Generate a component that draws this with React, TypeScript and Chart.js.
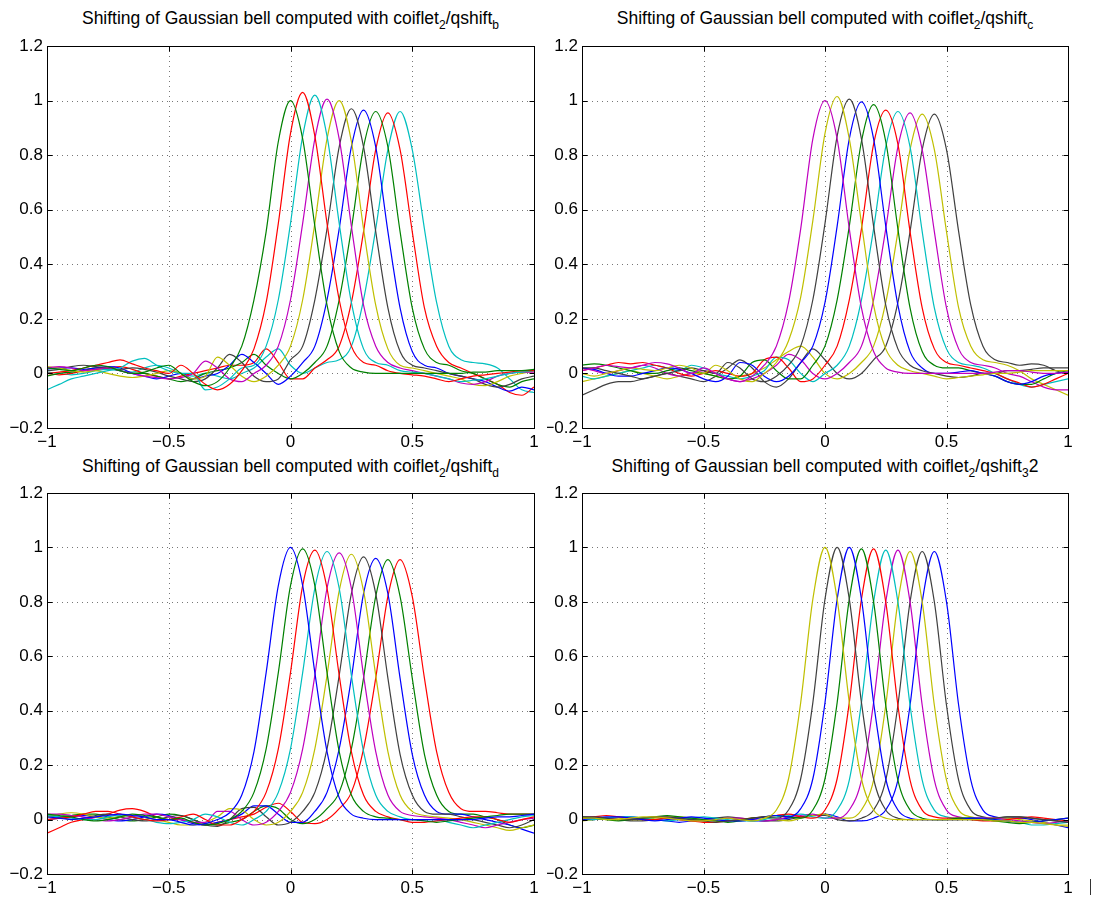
import React, { useEffect, useRef } from "react";
import { Chart, registerables } from "chart.js";
Chart.register(...registerables);

// x sample positions shared by every curve
const xValues = [-1, -0.95, -0.9, -0.85, -0.8, -0.75, -0.7, -0.65, -0.6, -0.55, -0.5, -0.45, -0.4, -0.35, -0.3, -0.25, -0.2, -0.15, -0.1, -0.05, 0, 0.05, 0.1, 0.15, 0.2, 0.25, 0.3, 0.35, 0.4, 0.45, 0.5, 0.55, 0.6, 0.65, 0.7, 0.75, 0.8, 0.85, 0.9, 0.95, 1];
const xTicks = [-1, -0.5, 0, 0.5, 1];
const yTicks = [-0.2, 0, 0.2, 0.4, 0.6, 0.8, 1, 1.2];

const cB = "#0000ff", cG = "#008000", cR = "#ff0000", cC = "#00bfbf", cM = "#bf00bf", cY = "#bfbf00", cK = "#404040";

// ---- Panel 1: qshift_b ----
const p1Colors = [cG, cR, cC, cM, cY, cK, cB, cG, cR, cC];
const p1s0 = [0.02, 0.015, 0.01, 0.02, 0.03, 0.025, 0.01, 0, 0.005, 0.02, 0.03, 0, -0.03, -0.045, -0.03, 0.02, 0.1, 0.27, 0.52, 0.85, 1, 0.86, 0.54, 0.25, 0.08, 0.02, 0.005, 0, 0, 0, 0, 0, 0, 0, 0, 0.005, 0.005, 0.01, 0.01, 0.01, 0.015];
const p1s1 = [0, 0.005, 0.01, 0.02, 0.03, 0.04, 0.05, 0.035, 0.02, 0.01, 0, 0.03, 0, -0.04, -0.06, -0.04, 0.01, 0.09, 0.26, 0.55, 0.88, 1.03, 0.87, 0.55, 0.27, 0.1, 0.04, 0.03, 0.01, 0, -0.005, -0.01, -0.02, -0.03, -0.02, -0.01, -0.005, 0, 0.005, 0.01, 0.01];
const p1s2 = [-0.06, -0.04, -0.02, -0.01, 0, 0.01, 0.02, 0.045, 0.055, 0.03, 0.01, 0, 0, -0.06, -0.05, -0.02, 0.02, 0.03, 0.1, 0.27, 0.55, 0.87, 1.02, 0.87, 0.55, 0.26, 0.09, 0.04, 0.03, 0.01, 0.005, 0, -0.01, -0.02, -0.03, -0.025, -0.02, -0.01, 0, 0.005, 0.01];
const p1s3 = [0.02, 0.025, 0.02, 0.01, 0.015, 0.02, 0.01, 0, -0.01, -0.015, -0.02, -0.015, 0, 0.045, 0.02, -0.02, -0.03, 0, 0.03, 0.1, 0.27, 0.55, 0.86, 1.005, 0.86, 0.54, 0.25, 0.1, 0.04, 0.02, 0.01, 0, -0.01, -0.02, -0.035, -0.04, -0.03, -0.01, 0, 0.005, 0.005];
const p1s4 = [0.025, 0.02, 0.01, 0.005, 0.01, 0, -0.01, -0.015, -0.01, 0, 0.01, 0, -0.02, -0.01, 0.06, 0.03, -0.01, -0.03, -0.01, 0.03, 0.1, 0.27, 0.55, 0.86, 1, 0.85, 0.53, 0.25, 0.09, 0.03, 0.02, 0.01, 0, -0.01, -0.02, -0.04, -0.045, -0.03, -0.01, 0, 0.01];
const p1s5 = [0.01, 0.015, 0.025, 0.03, 0.025, 0.02, 0.015, 0.02, 0.015, 0.005, -0.01, -0.02, -0.03, -0.02, 0.02, 0.07, 0.04, -0.01, -0.03, -0.02, 0.05, 0.1, 0.27, 0.53, 0.83, 0.97, 0.83, 0.52, 0.24, 0.08, 0.03, 0.02, 0.01, 0, -0.01, -0.02, -0.04, -0.05, -0.04, -0.02, -0.01];
const p1s6 = [0.015, 0.02, 0.02, 0.015, 0.02, 0.025, 0.02, 0, -0.01, -0.02, -0.01, 0, -0.02, -0.01, 0, 0.03, 0.07, 0.04, 0, -0.04, -0.01, 0.04, 0.1, 0.27, 0.53, 0.83, 0.965, 0.83, 0.52, 0.24, 0.08, 0.03, 0.02, 0, -0.01, -0.02, -0.03, -0.05, -0.065, -0.05, -0.06];
const p1s7 = [-0.01, 0, 0.005, 0.01, 0.02, 0.02, 0.01, 0, 0, -0.01, -0.02, -0.03, -0.02, 0, 0.01, 0.02, 0.04, 0.07, 0.03, 0, -0.02, 0, 0.04, 0.1, 0.27, 0.53, 0.83, 0.96, 0.83, 0.52, 0.24, 0.09, 0.04, 0.03, 0.01, 0, -0.02, -0.04, -0.05, -0.03, -0.02];
const p1s8 = [0, -0.005, 0, 0.01, 0.015, 0.02, 0.025, 0.015, 0, -0.01, -0.02, -0.01, 0, 0.01, 0.02, 0.03, 0.03, 0.04, 0.09, 0.04, -0.02, -0.02, 0.02, 0.05, 0.1, 0.26, 0.52, 0.82, 0.955, 0.82, 0.52, 0.24, 0.1, 0.04, 0.02, 0, -0.02, -0.04, -0.07, -0.08, -0.05];
const p1s9 = [0.005, 0, -0.005, 0, 0.01, 0.015, 0.01, 0.005, 0.02, 0.03, 0.02, 0, -0.01, 0, -0.01, -0.02, 0, 0.02, 0.06, 0.09, 0.03, 0, 0.02, 0.04, 0.05, 0.1, 0.27, 0.53, 0.82, 0.96, 0.82, 0.53, 0.26, 0.1, 0.05, 0.04, 0.035, 0.02, -0.02, -0.06, -0.07];

// ---- Panel 2: qshift_c ----
const p2Colors = [cM, cY, cK, cB, cG, cR, cC, cM, cY, cK];
const p2s0 = [0.01, 0.02, 0.03, 0.025, 0.02, 0.03, 0.04, 0.035, 0.02, 0, 0.02, 0, -0.02, -0.03, -0.01, 0.03, 0.1, 0.26, 0.53, 0.86, 1, 0.86, 0.53, 0.24, 0.08, 0.02, 0.005, 0, 0, 0, 0, 0, 0, 0, 0.005, 0.01, 0.01, 0.005, 0, 0, 0.005];
const p2s1 = [0, -0.01, 0, 0.01, 0.02, 0.015, 0.01, 0.02, 0.03, 0.02, 0, 0.03, 0.01, -0.02, -0.03, 0, 0.04, 0.12, 0.28, 0.56, 0.88, 1.015, 0.86, 0.55, 0.25, 0.09, 0.03, 0.01, 0, -0.01, -0.02, -0.015, -0.01, -0.005, 0, 0, 0.005, 0.01, 0.01, 0.01, 0.01];
const p2s2 = [0.02, 0.02, 0.01, 0, -0.01, -0.02, -0.01, 0, 0.01, 0.02, 0.01, 0, 0.04, 0.02, -0.02, -0.03, -0.01, 0.03, 0.1, 0.27, 0.55, 0.87, 1.005, 0.86, 0.54, 0.25, 0.09, 0.03, 0.01, 0, -0.01, -0.015, -0.01, 0, 0, 0.01, 0.01, 0.015, 0.02, 0.02, 0.02];
const p2s3 = [0.02, 0.015, 0, -0.01, -0.01, 0, 0.01, 0.02, 0.015, 0, -0.02, -0.03, -0.01, 0.04, 0.03, -0.01, -0.03, -0.01, 0.04, 0.1, 0.26, 0.54, 0.86, 0.995, 0.86, 0.54, 0.25, 0.08, 0.02, 0, 0, 0.005, 0.01, 0, -0.01, -0.03, -0.04, -0.03, -0.01, 0, 0.005];
const p2s4 = [0.03, 0.035, 0.03, 0.02, 0.01, 0, 0, 0.01, 0.02, 0.01, 0, -0.01, -0.02, -0.01, 0.04, 0.05, 0.01, -0.02, -0.02, 0.03, 0.1, 0.27, 0.54, 0.85, 0.985, 0.85, 0.53, 0.24, 0.08, 0.03, 0.02, 0.02, 0.01, 0, -0.01, -0.03, -0.04, -0.04, -0.02, 0, 0.01];
const p2s5 = [0.01, 0.02, 0.03, 0.04, 0.035, 0.04, 0.03, 0.02, 0, -0.01, 0, 0.01, 0, -0.01, 0, 0.05, 0.06, 0.02, -0.03, -0.02, 0.03, 0.1, 0.27, 0.53, 0.84, 0.965, 0.84, 0.52, 0.24, 0.09, 0.04, 0.03, 0.02, 0.01, 0, -0.02, -0.035, -0.05, -0.04, -0.02, 0];
const p2s6 = [-0.01, -0.02, -0.01, 0, 0.01, 0.02, 0.03, 0.02, 0.01, 0.03, 0.02, 0, -0.01, -0.02, -0.01, 0.01, 0.06, 0.05, 0, -0.03, 0, 0.03, 0.1, 0.27, 0.53, 0.83, 0.96, 0.83, 0.52, 0.24, 0.09, 0.04, 0.03, 0.02, 0, -0.02, -0.04, -0.05, -0.04, -0.03, -0.02];
const p2s7 = [0.02, 0.01, 0, 0.01, 0.02, 0.03, 0.02, 0, -0.01, 0, 0.01, 0, -0.02, -0.03, -0.02, 0, 0.03, 0.07, 0.05, 0, -0.02, 0, 0.04, 0.1, 0.27, 0.53, 0.83, 0.955, 0.82, 0.52, 0.24, 0.09, 0.04, 0.03, 0.02, 0, -0.01, -0.03, -0.05, -0.06, -0.06];
const p2s8 = [-0.03, -0.02, -0.01, 0, 0.01, 0, -0.01, -0.02, -0.01, 0, 0, -0.01, -0.02, -0.01, 0, 0.02, 0.05, 0.08, 0.1, 0.06, 0, -0.02, 0, 0.04, 0.1, 0.26, 0.52, 0.82, 0.95, 0.82, 0.52, 0.24, 0.1, 0.05, 0.04, 0.03, 0.01, -0.02, -0.04, -0.06, -0.08];
const p2s9 = [-0.08, -0.06, -0.04, -0.03, -0.03, -0.02, -0.01, 0, -0.01, -0.02, -0.03, -0.01, 0.02, 0.05, 0.02, -0.03, -0.05, -0.02, 0.04, 0.09, 0.05, 0, -0.02, 0, 0.05, 0.1, 0.26, 0.52, 0.82, 0.95, 0.82, 0.52, 0.25, 0.1, 0.05, 0.04, 0.03, 0.035, 0.03, 0.01, 0];

// ---- Panel 3: qshift_d ----
const p3Colors = [cB, cG, cR, cC, cM, cY, cK, cB, cG, cR];
const p3s0 = [0.01, 0.005, 0, 0.005, 0.01, 0.015, 0.02, 0.015, 0.01, 0, 0, -0.01, -0.02, -0.015, 0, 0.025, 0.09, 0.25, 0.54, 0.86, 1, 0.86, 0.54, 0.25, 0.08, 0.02, 0.005, 0, 0, 0, 0, 0, 0, 0, 0, 0, 0.005, 0.01, 0.01, 0.015, 0.02];
const p3s1 = [0.02, 0.015, 0.01, 0, -0.005, 0, 0.01, 0.02, 0.015, 0.01, 0, 0.005, -0.01, -0.02, -0.015, 0, 0.03, 0.1, 0.26, 0.54, 0.86, 0.995, 0.86, 0.54, 0.25, 0.09, 0.03, 0.01, 0.005, 0, 0, -0.005, -0.01, -0.005, 0, 0.005, 0.01, 0.015, 0.02, 0.02, 0.02];
const p3s2 = [0, 0.005, 0.01, 0.02, 0.03, 0.03, 0.02, 0.01, 0, -0.005, 0, 0.01, 0.02, 0, -0.02, -0.02, 0, 0.03, 0.1, 0.26, 0.54, 0.86, 0.99, 0.85, 0.53, 0.25, 0.09, 0.03, 0.01, 0, -0.01, -0.01, -0.005, 0, 0.005, 0.01, 0.01, 0, -0.01, 0, 0.01];
const p3s3 = [0.015, 0.01, 0.005, 0, 0, 0.01, 0.015, 0.01, 0, -0.01, -0.015, -0.01, 0, 0.02, 0.01, -0.01, -0.02, 0, 0.03, 0.1, 0.26, 0.54, 0.85, 0.985, 0.85, 0.53, 0.25, 0.09, 0.03, 0.01, 0, 0, 0, -0.01, -0.02, -0.03, -0.02, -0.01, 0, 0.01, 0.015];
const p3s4 = [0.02, 0.02, 0.015, 0.01, 0, -0.005, 0, 0.01, 0.02, 0.02, 0.01, 0, -0.01, -0.01, 0.03, 0.03, 0, -0.02, -0.01, 0.03, 0.1, 0.26, 0.53, 0.85, 0.98, 0.85, 0.53, 0.25, 0.09, 0.03, 0.015, 0.01, 0.005, 0, -0.01, -0.02, -0.03, -0.02, -0.01, 0, 0.005];
const p3s5 = [0.01, 0.02, 0.025, 0.02, 0.01, 0.005, 0.01, 0.015, 0.01, 0, -0.01, -0.02, -0.02, -0.01, 0.01, 0.04, 0.035, 0, -0.02, -0.01, 0.03, 0.1, 0.26, 0.53, 0.84, 0.975, 0.84, 0.53, 0.25, 0.09, 0.03, 0.015, 0.01, 0.005, 0, -0.01, -0.02, -0.03, -0.04, -0.03, -0.02];
const p3s6 = [0.015, 0.01, 0, 0.005, 0.015, 0.02, 0.01, 0, -0.005, 0, 0.01, 0.015, 0, -0.02, -0.025, 0, 0.04, 0.045, 0.01, -0.02, -0.01, 0.03, 0.1, 0.26, 0.53, 0.83, 0.965, 0.83, 0.52, 0.24, 0.09, 0.03, 0.02, 0.02, 0.01, 0, -0.01, -0.02, -0.03, -0.02, 0];
const p3s7 = [0, 0.005, 0.01, 0.015, 0.01, 0, -0.005, 0, 0.01, 0.02, 0.015, 0, -0.015, -0.02, -0.01, 0, 0.02, 0.05, 0.05, 0.02, -0.01, -0.01, 0.03, 0.1, 0.26, 0.52, 0.83, 0.96, 0.83, 0.52, 0.24, 0.09, 0.03, 0.02, 0.02, 0.01, 0, -0.01, -0.02, -0.035, -0.05];
const p3s8 = [0.01, 0.01, 0.015, 0.02, 0.02, 0.01, 0, -0.005, 0, 0.01, 0.02, 0.015, 0, -0.015, -0.02, -0.01, 0, 0.03, 0.05, 0.04, 0, -0.015, 0, 0.04, 0.1, 0.26, 0.52, 0.82, 0.955, 0.82, 0.52, 0.24, 0.09, 0.03, 0.02, 0.02, 0.01, 0, -0.02, -0.03, -0.02];
const p3s9 = [-0.05, -0.03, -0.01, 0, 0.01, 0.02, 0.035, 0.04, 0.03, 0.01, 0, 0, -0.01, -0.02, -0.01, 0, 0.01, 0.02, 0.045, 0.06, 0.03, -0.01, -0.015, 0, 0.04, 0.1, 0.26, 0.52, 0.82, 0.955, 0.82, 0.52, 0.25, 0.1, 0.04, 0.03, 0.03, 0.025, 0.02, 0.02, 0.02];

// ---- Panel 4: qshift_3 2 ----
const p4Colors = [cY, cK, cB, cG, cR, cC, cM, cY, cK, cB];
const p4s0 = [0.005, 0.005, 0, 0, 0.005, 0.01, 0.01, 0.005, 0, -0.005, -0.005, 0, 0.005, 0, -0.005, 0.005, 0.035, 0.15, 0.43, 0.81, 1, 0.81, 0.43, 0.15, 0.035, 0.005, 0, 0, 0, 0, 0, 0, 0, 0, -0.005, -0.005, -0.01, -0.01, -0.015, -0.02, -0.02];
const p4s1 = [0.01, 0.01, 0.005, 0, 0, 0.005, 0.01, 0.01, 0.005, 0, -0.005, -0.01, -0.005, 0, 0.005, 0.01, 0.005, 0.035, 0.15, 0.43, 0.81, 1, 0.81, 0.43, 0.15, 0.035, 0.005, 0, 0, 0, 0, 0, 0, 0, 0.005, 0.01, 0.01, 0.005, 0, -0.005, -0.01];
const p4s2 = [0, 0.005, 0.01, 0.01, 0.005, 0, -0.005, 0, 0.005, 0.01, 0.005, 0, -0.005, -0.005, 0, 0.01, 0.015, 0.01, 0.04, 0.15, 0.43, 0.81, 1, 0.81, 0.43, 0.15, 0.035, 0.005, 0, 0, 0, 0, 0.005, 0.005, 0, -0.005, -0.01, -0.01, -0.005, 0, 0.005];
const p4s3 = [0.01, 0.005, 0, -0.005, 0, 0.005, 0.01, 0.015, 0.01, 0.005, 0, -0.005, -0.01, -0.005, 0.005, 0.01, 0.015, 0.01, 0.005, 0.035, 0.15, 0.43, 0.81, 0.995, 0.8, 0.42, 0.145, 0.035, 0.005, 0, 0, 0.005, 0.005, 0, -0.005, -0.01, -0.015, -0.01, -0.005, 0, 0.005];
const p4s4 = [0.005, 0.01, 0.015, 0.01, 0.005, 0, 0, 0.005, 0, -0.005, -0.01, -0.01, -0.005, 0, 0.005, 0.01, 0.015, 0.02, 0.01, 0.005, 0.035, 0.15, 0.43, 0.81, 0.995, 0.8, 0.42, 0.145, 0.035, 0.01, 0.005, 0.005, 0, -0.005, -0.005, 0, 0.005, 0.01, 0.005, 0, -0.005];
const p4s5 = [0, 0, 0.005, 0.01, 0.01, 0.005, 0, -0.005, 0, 0.005, 0.01, 0.005, 0, -0.005, -0.005, 0, 0.01, 0.015, 0.02, 0.01, 0.005, 0.035, 0.145, 0.43, 0.8, 0.99, 0.8, 0.42, 0.145, 0.035, 0.01, 0.005, 0.005, 0, 0, -0.005, -0.01, -0.02, -0.02, -0.015, -0.01];
const p4s6 = [0.01, 0.01, 0.005, 0, 0, 0.005, 0.01, 0.005, 0, -0.005, -0.005, 0, 0.005, 0.005, 0, -0.005, 0, 0.01, 0.015, 0.02, 0.005, 0.005, 0.035, 0.145, 0.43, 0.8, 0.99, 0.8, 0.42, 0.145, 0.035, 0.01, 0.005, 0.005, 0.005, 0, -0.005, -0.01, -0.015, -0.01, -0.005];
const p4s7 = [-0.005, 0, 0.005, 0.005, 0, 0, 0.005, 0.01, 0.01, 0.005, 0, -0.005, -0.005, 0, 0.005, 0.005, 0, -0.005, 0.005, 0.015, 0.02, 0.005, 0.005, 0.035, 0.145, 0.42, 0.8, 0.985, 0.8, 0.42, 0.145, 0.035, 0.01, 0.005, 0.005, 0.005, 0, -0.005, -0.01, -0.02, -0.025];
const p4s8 = [0, 0.005, 0.005, 0, -0.005, -0.005, 0, 0.005, 0.005, 0, 0, 0.005, 0.01, 0.005, 0, -0.005, -0.005, 0, 0.01, 0.015, 0.015, 0, -0.005, 0.005, 0.035, 0.145, 0.42, 0.8, 0.985, 0.8, 0.42, 0.145, 0.035, 0.01, 0.005, 0.01, 0.01, 0.005, 0, -0.005, -0.01];
const p4s9 = [0, 0, 0.005, 0.01, 0.01, 0.005, 0, -0.005, -0.01, -0.005, 0, 0.005, 0.005, 0, -0.005, -0.005, 0, 0.005, 0.01, 0.015, 0.02, 0.01, -0.005, -0.005, 0.005, 0.035, 0.145, 0.42, 0.8, 0.985, 0.8, 0.42, 0.145, 0.035, 0.01, 0.005, 0.005, 0, -0.01, -0.02, -0.03];

const FONT = '"Liberation Sans", Arial, Helvetica, sans-serif';
const fmtTick = (v: number) => (v < 0 ? "\u2212" + String(-v) : String(v));

const framePlugin = {
  id: "matlabFrame",
  beforeDatasetsDraw(chart: any) {
    const { ctx, chartArea: a, scales } = chart;
    ctx.save();
    ctx.strokeStyle = "#777777";
    ctx.lineWidth = 1;
    ctx.setLineDash([1, 4]);
    xTicks.slice(1, -1).forEach((v) => {
      const px = Math.round(scales.x.getPixelForValue(v)) + 0.5;
      ctx.beginPath();
      ctx.moveTo(px, a.top);
      ctx.lineTo(px, a.bottom);
      ctx.stroke();
    });
    yTicks.slice(1, -1).forEach((v) => {
      const py = Math.round(scales.y.getPixelForValue(v)) + 0.5;
      ctx.beginPath();
      ctx.moveTo(a.left, py);
      ctx.lineTo(a.right, py);
      ctx.stroke();
    });
    ctx.restore();
  },
  afterDatasetsDraw(chart: any) {
    const { ctx, chartArea: a, scales } = chart;
    const L = Math.round(a.left) + 0.5, R = Math.round(a.right) + 0.5;
    const T = Math.round(a.top) + 0.5, B = Math.round(a.bottom) + 0.5;
    const tl = 5;
    ctx.save();
    ctx.strokeStyle = "#000000";
    ctx.lineWidth = 1;
    ctx.setLineDash([]);
    ctx.strokeRect(L, T, R - L, B - T);
    ctx.beginPath();
    xTicks.slice(1, -1).forEach((v) => {
      const px = Math.round(scales.x.getPixelForValue(v)) + 0.5;
      ctx.moveTo(px, B); ctx.lineTo(px, B - tl);
      ctx.moveTo(px, T); ctx.lineTo(px, T + tl);
    });
    yTicks.slice(1, -1).forEach((v) => {
      const py = Math.round(scales.y.getPixelForValue(v)) + 0.5;
      ctx.moveTo(L, py); ctx.lineTo(L + tl, py);
      ctx.moveTo(R, py); ctx.lineTo(R - tl, py);
    });
    ctx.stroke();
    ctx.restore();
  },
};

type PanelProps = {
  left: number; top: number; width: number; height: number;
  padTop: number; padRight: number; yAxisWidth: number; xAxisHeight: number;
  series: number[][]; colors: string[];
};

function Panel(p: PanelProps) {
  const ref = useRef<HTMLCanvasElement | null>(null);
  useEffect(() => {
    if (!ref.current) return;
    const chart = new Chart(ref.current, {
      type: "line",
      data: {
        datasets: p.series.map((s, i) => ({
          data: s.map((y, k) => ({ x: xValues[k], y })),
          borderColor: p.colors[i],
          backgroundColor: p.colors[i],
          borderWidth: 1.2,
          pointRadius: 0,
          fill: false,
          cubicInterpolationMode: "monotone" as const,
        })),
      },
      options: {
        animation: false,
        responsive: false,
        maintainAspectRatio: false,
        events: [],
        layout: { padding: { top: p.padTop, right: p.padRight, left: 0, bottom: 0 } },
        plugins: { legend: { display: false }, tooltip: { enabled: false }, title: { display: false } },
        scales: {
          x: {
            type: "linear",
            min: -1,
            max: 1,
            afterBuildTicks: (s: any) => { s.ticks = xTicks.map((v) => ({ value: v })); },
            ticks: { color: "#000", font: { family: FONT, size: 17 }, padding: 4, maxRotation: 0, autoSkip: false, callback: (v: any) => fmtTick(Number(v)) },
            grid: { display: false, drawTicks: false },
            border: { display: false },
            afterFit: (s: any) => { s.height = p.xAxisHeight; },
          },
          y: {
            type: "linear",
            min: -0.2,
            max: 1.2,
            afterBuildTicks: (s: any) => { s.ticks = yTicks.map((v) => ({ value: v })); },
            ticks: { color: "#000", font: { family: FONT, size: 17 }, padding: 4, autoSkip: false, callback: (v: any) => fmtTick(Number(v)) },
            grid: { display: false, drawTicks: false },
            border: { display: false },
            afterFit: (s: any) => { s.width = p.yAxisWidth; },
          },
        },
      } as any,
      plugins: [framePlugin],
    });
    return () => chart.destroy();
  }, []);
  return (
    <canvas
      ref={ref}
      width={p.width}
      height={p.height}
      style={{ position: "absolute", left: p.left, top: p.top, width: p.width, height: p.height }}
    />
  );
}

const subStyle: React.CSSProperties = { fontSize: 12, verticalAlign: -5, lineHeight: 0 };

function Title({ cx, top, children }: { cx: number; top: number; children: React.ReactNode }) {
  return (
    <div
      style={{
        position: "absolute", left: cx - 300, width: 600, top, textAlign: "center",
        fontFamily: FONT, fontSize: 17.5, lineHeight: "20px", whiteSpace: "nowrap", color: "#000",
      }}
    >
      {children}
    </div>
  );
}

export default function App() {
  return (
    <div style={{ position: "absolute", left: 0, top: 0, width: 1094, height: 900, background: "#fff", overflow: "hidden" }}>
      <Title cx={290.5} top={8}>
        Shifting of Gaussian bell computed with coiflet<sub style={subStyle}>2</sub>/qshift<sub style={subStyle}>b</sub>
      </Title>
      <Title cx={825} top={8}>
        Shifting of Gaussian bell computed with coiflet<sub style={subStyle}>2</sub>/qshift<sub style={subStyle}>c</sub>
      </Title>
      <Title cx={290.5} top={456}>
        Shifting of Gaussian bell computed with coiflet<sub style={subStyle}>2</sub>/qshift<sub style={subStyle}>d</sub>
      </Title>
      <Title cx={825} top={456}>
        Shifting of Gaussian bell computed with coiflet<sub style={subStyle}>2</sub>/qshift<sub style={subStyle}>3</sub>2
      </Title>
      <Panel left={0} top={30} width={547} height={420} padTop={16} padRight={13} yAxisWidth={47} xAxisHeight={22}
        series={[p1s0, p1s1, p1s2, p1s3, p1s4, p1s5, p1s6, p1s7, p1s8, p1s9]} colors={p1Colors} />
      <Panel left={547} top={30} width={547} height={420} padTop={16} padRight={26} yAxisWidth={35} xAxisHeight={22}
        series={[p2s0, p2s1, p2s2, p2s3, p2s4, p2s5, p2s6, p2s7, p2s8, p2s9]} colors={p2Colors} />
      <Panel left={0} top={477} width={547} height={423} padTop={16} padRight={13} yAxisWidth={47} xAxisHeight={26}
        series={[p3s0, p3s1, p3s2, p3s3, p3s4, p3s5, p3s6, p3s7, p3s8, p3s9]} colors={p3Colors} />
      <Panel left={547} top={477} width={547} height={423} padTop={16} padRight={26} yAxisWidth={35} xAxisHeight={26}
        series={[p4s0, p4s1, p4s2, p4s3, p4s4, p4s5, p4s6, p4s7, p4s8, p4s9]} colors={p4Colors} />
      <div style={{ position: "absolute", left: 1090, top: 879, width: 1, height: 16, background: "#333" }} />
    </div>
  );
}
